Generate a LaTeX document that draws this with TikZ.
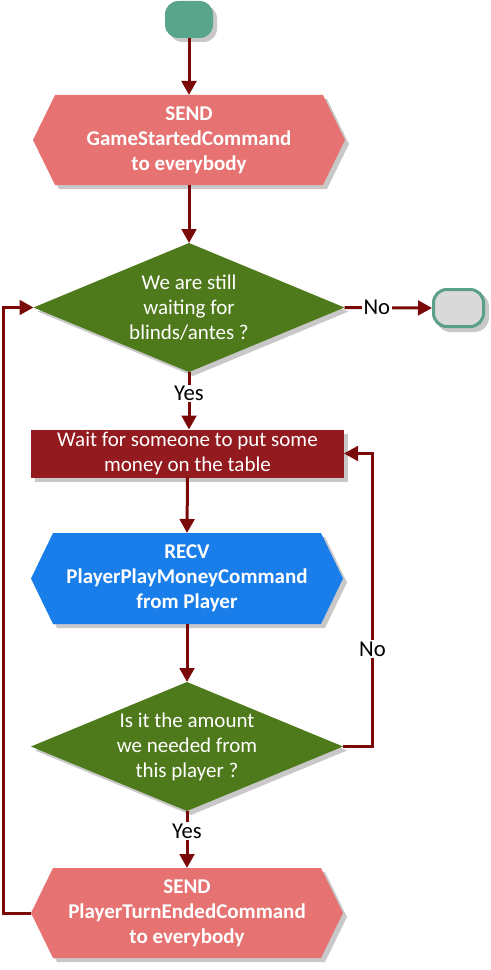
\documentclass[tikz,border=0pt]{standalone}
\usepackage{fontspec}
\setmainfont{Carlito}
\usetikzlibrary{arrows.meta,calc,backgrounds}
\definecolor{startc}{HTML}{58A58B}
\definecolor{pinkc}{HTML}{E67272}
\definecolor{greenc}{HTML}{4F7A1C}
\definecolor{darkredc}{HTML}{931A1E}
\definecolor{bluec}{HTML}{1A7EEA}
\definecolor{arrowc}{HTML}{7A0A0A}
\definecolor{endfill}{HTML}{D9D9D9}
\definecolor{endline}{HTML}{5A9F8B}
\definecolor{shadowc}{HTML}{C8C8C8}
\newcommand\myhexpath[1]{(#1.west) -- ($(#1.north west)+(22,0)$) -- ($(#1.north east)+(-22,0)$) -- (#1.east) -- ($(#1.south east)+(-22,0)$) -- ($(#1.south west)+(22,0)$) -- cycle}
\newcommand\mydiapath[1]{(#1.west) -- (#1.north) -- (#1.east) -- (#1.south) -- cycle}
\begin{document}
\begin{tikzpicture}[x=0.75pt,y=-0.75pt,
  base/.style={inner sep=0pt, outer sep=0pt, align=center, text=white, font=\fontsize{15.75}{18.75}\selectfont},
  hexbox/.style={base, font=\fontsize{15.75}{18.75}\selectfont\bfseries, minimum width=234pt, minimum height=67.5pt},
  diabox/.style={base, minimum width=234pt, minimum height=96.75pt},
  rectbox/.style={base, minimum width=234.75pt, minimum height=36pt},
  termbox/.style={base},
  conn/.style={draw=arrowc, line width=2.25pt, -{Triangle[width=11pt,length=10.5pt]}},
  lab/.style={fill=white, text=black, inner sep=1pt, font=\fontsize{17}{20}\selectfont},
  shad/.style={fill=shadowc, transform canvas={xshift=3pt,yshift=-3pt}}]
\useasboundingbox (0,0) rectangle (491,970);
% nodes
\node[termbox, minimum width=36pt, minimum height=27.75pt] (start) at (189,19.5) {};
\node[hexbox] (h1) at (189,140) {SEND\\GameStartedCommand\\to everybody};
\node[diabox, minimum width=233.25pt] (d1) at (189,307.5) {We are still\\waiting for\\blinds/antes ?};
\node[termbox, minimum width=39.75pt, minimum height=30pt] (endt) at (458.5,308) {};
\node[rectbox] (r1) at (187.5,453.5) {Wait for someone to put some\\money on the table};
\node[hexbox, minimum height=68.25pt] (h2) at (187,578.5) {RECV\\PlayerPlayMoneyCommand\\from Player};
\node[diabox] (d2) at (187,746.5) {Is it the amount\\we needed from\\this player ?};
\node[hexbox] (h3) at (187,913) {SEND\\PlayerTurnEndedCommand\\to everybody};
% shapes
\begin{scope}[on background layer]
  \fill[shad, rounded corners=10pt] (start.north west) rectangle (start.south east);
  \fill[startc, rounded corners=10pt] (start.north west) rectangle (start.south east);
  \fill[shad] \myhexpath{h1};
  \fill[pinkc] \myhexpath{h1};
  \fill[shad] \mydiapath{d1};
  \fill[greenc] \mydiapath{d1};
  \fill[shad, rounded corners=11pt] (endt.north west) rectangle (endt.south east);
  \filldraw[fill=endfill, draw=endline, line width=2.25pt, rounded corners=10pt] ($(endt.north west)+(1.5,1.5)$) rectangle ($(endt.south east)+(-1.5,-1.5)$);
  \fill[shad] (r1.north west) rectangle (r1.south east);
  \fill[darkredc] (r1.north west) rectangle (r1.south east);
  \fill[shad] \myhexpath{h2};
  \fill[bluec] \myhexpath{h2};
  \fill[shad] \mydiapath{d2};
  \fill[greenc] \mydiapath{d2};
  \fill[shad] \myhexpath{h3};
  \fill[pinkc] \myhexpath{h3};
\end{scope}
% loop coordinates
\coordinate (rr1) at (372.5,746.5);
\coordinate (rr2) at (372.5,453.5);
\coordinate (lb) at (3.5,913);
\coordinate (lt) at (3.5,307.5);
% connectors
\draw[conn] (start.south) -- (h1.north);
\draw[conn] (h1.south) -- (d1.north);
\draw[conn] (d1.east) -- node[lab, pos=0.37] {No} (endt.west);
\draw[conn] (d1.south) -- node[lab, pos=0.37] {Yes} (d1.south |- r1.north);
\draw[conn] (r1.south) -- (h2.north);
\draw[conn] (h2.south) -- (d2.north);
\draw[conn] (d2.south) -- node[lab, pos=0.35] {Yes} (h3.north);
\draw[conn] (d2.east) -- (rr1) -- node[lab, pos=0.333] {No} (rr2) -- (r1.east);
\draw[conn] (h3.west) -- (lb) -- (lt) -- (d1.west);
\end{tikzpicture}
\end{document}
